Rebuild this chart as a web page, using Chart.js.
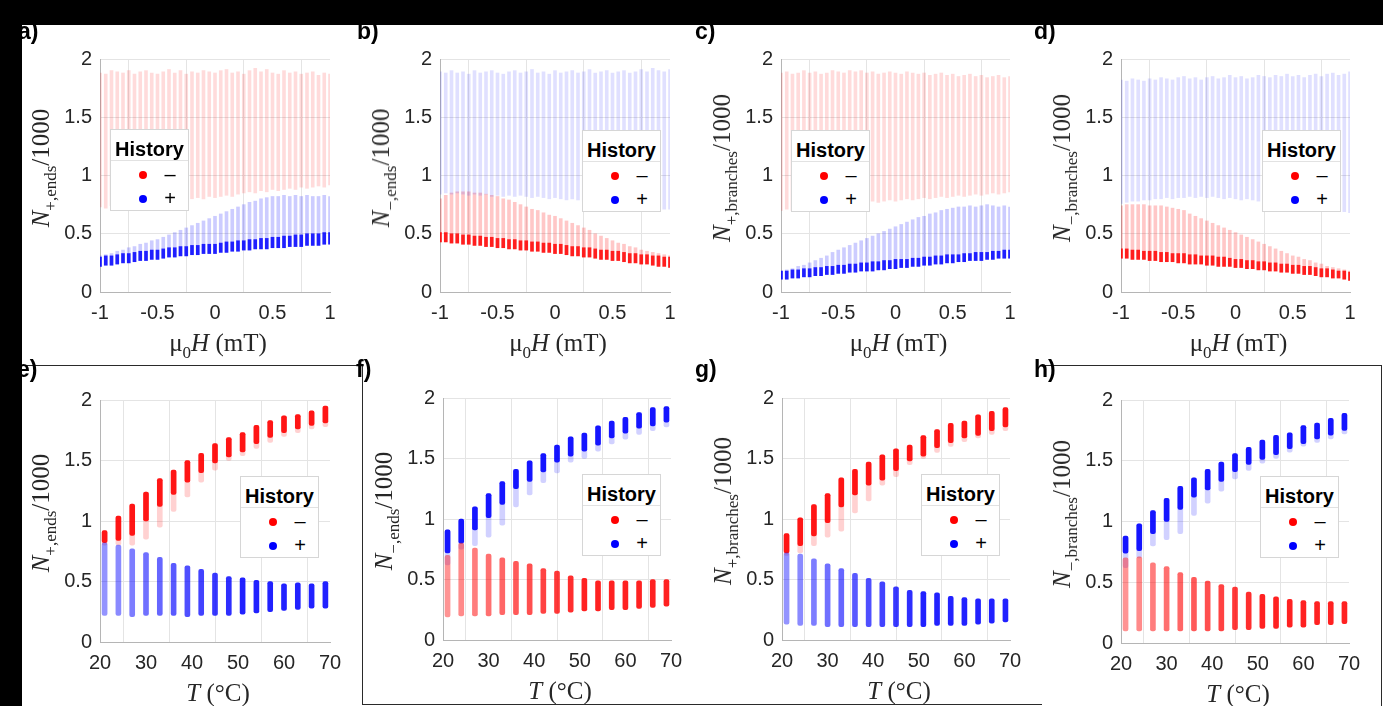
<!DOCTYPE html>
<html>
<head>
<meta charset="utf-8">
<script src="https://cdn.jsdelivr.net/npm/chart.js@4.4.1/dist/chart.umd.min.js"></script>
<style>
body { margin: 0; background: #fff; }
#fig { position: relative; width: 1383px; height: 706px; overflow: hidden; background: #fff; }
#fig canvas { position: absolute; }
.lbl { position: absolute; font: bold 23px 'Liberation Sans', Arial, sans-serif; line-height: 23px; color: #000; }
.yt { position: absolute; font: 25px 'Liberation Serif', 'Times New Roman', serif; white-space: nowrap; color: #262626;
      transform: translate(-50%, -50%) rotate(-90deg); }
.yt sub { font-size: 17px; vertical-align: -7px; }
.xt { position: absolute; font: 25px 'Liberation Serif', 'Times New Roman', serif; line-height: 25px; white-space: nowrap; color: #262626;
      transform: translateX(-50%); }
.xt sub { font-size: 17px; vertical-align: -7px; }
.leg { position: absolute; width: 79px; height: 82px; border: 1px solid #d6d6d6; background: #fff; box-sizing: border-box; }
.leg .t { position: absolute; left: 0; right: 0; top: 8px; text-align: center; font: bold 20px 'Liberation Sans', Arial, sans-serif; line-height: 22px; color: #000; }
.leg .sep { position: absolute; left: 0; right: 0; top: 30px; border-top: 1px solid #e2e2e2; }
.leg .dot { position: absolute; left: 28px; width: 8px; height: 8px; border-radius: 50%; }
.leg .sym { position: absolute; left: 50px; width: 18px; text-align: center; font: 20px 'Liberation Sans', Arial, sans-serif; line-height: 20px; color: #000; }
.blk { position: absolute; background: #000; }
.ln { position: absolute; background: #2a2a2a; }
</style>
</head>
<body>
<div id="fig"></div>
<script>
// field sweep (top row) and temperature sweep (bottom row)
var fieldH = [-1, -0.95, -0.9, -0.85, -0.8, -0.75, -0.7, -0.65, -0.6, -0.55, -0.5, -0.45, -0.4, -0.35, -0.3, -0.25, -0.2, -0.15, -0.1, -0.05,
    0, 0.05, 0.1, 0.15, 0.2, 0.25, 0.3, 0.35, 0.4, 0.45, 0.5, 0.55, 0.6, 0.65, 0.7, 0.75, 0.8, 0.85, 0.9, 0.95, 1];
var tempC = [21, 24, 27, 30, 33, 36, 39, 42, 45, 48, 51, 54, 57, 60, 63, 66, 69];

var fieldTicks = [-1, -0.5, 0, 0.5, 1];
var tempTicks = [20, 30, 40, 50, 60, 70];
var countTicks = [0, 0.5, 1, 1.5, 2];

// a) N+,ends vs field
var aMinusHi = [1.88,1.87,1.90,1.89,1.88,1.90,1.87,1.89,1.90,1.88,1.87,1.89,1.91,1.88,1.90,1.87,1.89,1.88,1.90,1.89,1.88,1.90,1.91,1.88,1.89,1.87,1.90,1.92,1.89,1.91,1.88,1.87,1.90,1.88,1.89,1.87,1.88,1.89,1.86,1.88,1.87];
var aMinusLo = [0.73,0.72,0.74,0.73,0.74,0.75,0.74,0.76,0.77,0.76,0.78,0.77,0.79,0.78,0.80,0.79,0.80,0.81,0.80,0.82,0.81,0.82,0.83,0.82,0.84,0.85,0.86,0.85,0.87,0.86,0.88,0.87,0.88,0.89,0.88,0.90,0.89,0.90,0.91,0.90,0.92];
var aPlusLo  = [0.22,0.23,0.23,0.24,0.25,0.25,0.26,0.27,0.27,0.28,0.28,0.29,0.30,0.30,0.31,0.31,0.32,0.32,0.33,0.33,0.33,0.34,0.34,0.35,0.35,0.36,0.36,0.37,0.37,0.37,0.38,0.38,0.38,0.39,0.39,0.39,0.40,0.40,0.40,0.41,0.41];
var aPlusMid = [0.30,0.31,0.31,0.32,0.33,0.33,0.34,0.35,0.35,0.36,0.36,0.37,0.38,0.38,0.39,0.39,0.40,0.40,0.41,0.41,0.41,0.42,0.43,0.43,0.44,0.44,0.45,0.45,0.46,0.46,0.47,0.47,0.48,0.48,0.49,0.49,0.50,0.50,0.50,0.51,0.51];
var aPlusHi  = [0.31,0.32,0.33,0.35,0.36,0.38,0.39,0.41,0.42,0.44,0.45,0.47,0.49,0.51,0.53,0.55,0.57,0.59,0.61,0.63,0.65,0.67,0.69,0.71,0.73,0.75,0.77,0.78,0.80,0.81,0.82,0.82,0.83,0.82,0.83,0.82,0.83,0.82,0.82,0.83,0.82];

// b) N-,ends vs field
var bPlusHi   = [1.89,1.88,1.90,1.88,1.89,1.87,1.90,1.88,1.89,1.90,1.88,1.87,1.89,1.90,1.88,1.89,1.91,1.88,1.89,1.87,1.90,1.88,1.89,1.90,1.88,1.89,1.91,1.88,1.89,1.90,1.88,1.89,1.90,1.88,1.89,1.91,1.89,1.92,1.90,1.89,1.91];
var bPlusLo   = [0.84,0.85,0.84,0.85,0.84,0.83,0.84,0.83,0.84,0.82,0.83,0.82,0.83,0.82,0.83,0.82,0.81,0.82,0.81,0.80,0.81,0.80,0.79,0.80,0.79,0.78,0.78,0.77,0.77,0.76,0.76,0.75,0.75,0.74,0.74,0.73,0.73,0.72,0.72,0.71,0.71];
var bMinusLo  = [0.43,0.43,0.42,0.42,0.41,0.41,0.40,0.40,0.39,0.39,0.38,0.38,0.37,0.37,0.36,0.36,0.35,0.35,0.34,0.34,0.33,0.33,0.32,0.31,0.31,0.30,0.30,0.29,0.28,0.28,0.27,0.27,0.26,0.25,0.25,0.24,0.24,0.23,0.22,0.22,0.21];
var bMinusMid = [0.51,0.51,0.50,0.50,0.49,0.49,0.48,0.48,0.47,0.47,0.46,0.46,0.45,0.45,0.44,0.44,0.43,0.43,0.42,0.42,0.41,0.41,0.40,0.39,0.39,0.38,0.38,0.37,0.36,0.36,0.35,0.35,0.34,0.33,0.33,0.32,0.32,0.31,0.31,0.30,0.30];
var bMinusHi  = [0.80,0.83,0.85,0.86,0.86,0.86,0.85,0.85,0.84,0.83,0.82,0.80,0.79,0.77,0.75,0.73,0.71,0.70,0.68,0.66,0.65,0.63,0.61,0.59,0.57,0.55,0.53,0.50,0.48,0.46,0.44,0.42,0.41,0.39,0.38,0.36,0.35,0.34,0.33,0.32,0.31];

// c) N+,branches vs field
var cMinusHi = [1.88,1.89,1.87,1.88,1.90,1.88,1.89,1.87,1.88,1.90,1.89,1.88,1.90,1.89,1.90,1.88,1.89,1.87,1.88,1.89,1.88,1.87,1.89,1.88,1.87,1.88,1.86,1.87,1.88,1.86,1.87,1.85,1.86,1.87,1.85,1.86,1.84,1.85,1.86,1.84,1.85];
var cMinusLo = [0.70,0.71,0.70,0.72,0.71,0.72,0.73,0.72,0.74,0.73,0.75,0.74,0.76,0.75,0.77,0.76,0.78,0.77,0.78,0.79,0.78,0.79,0.80,0.79,0.80,0.81,0.80,0.81,0.82,0.81,0.82,0.83,0.82,0.83,0.84,0.83,0.84,0.85,0.84,0.85,0.86];
var cPlusLo  = [0.11,0.11,0.12,0.12,0.13,0.13,0.14,0.14,0.15,0.15,0.16,0.16,0.17,0.17,0.18,0.18,0.18,0.19,0.19,0.20,0.20,0.21,0.21,0.22,0.22,0.23,0.23,0.24,0.24,0.25,0.25,0.26,0.26,0.27,0.27,0.27,0.28,0.28,0.29,0.29,0.29];
var cPlusMid = [0.18,0.18,0.19,0.19,0.20,0.20,0.21,0.21,0.22,0.22,0.23,0.23,0.24,0.24,0.25,0.25,0.26,0.26,0.27,0.27,0.28,0.28,0.28,0.29,0.29,0.30,0.30,0.31,0.31,0.32,0.32,0.32,0.33,0.33,0.34,0.34,0.34,0.35,0.35,0.36,0.36];
var cPlusHi  = [0.18,0.19,0.20,0.22,0.23,0.25,0.27,0.29,0.31,0.34,0.36,0.38,0.40,0.42,0.44,0.46,0.48,0.50,0.52,0.54,0.56,0.58,0.60,0.62,0.64,0.65,0.67,0.68,0.70,0.71,0.72,0.73,0.73,0.74,0.73,0.74,0.75,0.74,0.73,0.74,0.73];

// d) N-,branches vs field
var dPlusHi   = [1.82,1.81,1.83,1.82,1.81,1.83,1.82,1.84,1.83,1.82,1.84,1.85,1.83,1.84,1.82,1.84,1.85,1.83,1.84,1.86,1.84,1.85,1.83,1.84,1.86,1.85,1.84,1.86,1.85,1.87,1.85,1.86,1.84,1.86,1.87,1.85,1.87,1.88,1.86,1.87,1.89];
var dPlusLo   = [0.76,0.77,0.78,0.78,0.79,0.79,0.80,0.80,0.81,0.80,0.81,0.81,0.82,0.81,0.82,0.81,0.82,0.81,0.80,0.81,0.80,0.79,0.80,0.79,0.78,0.78,0.77,0.77,0.76,0.75,0.75,0.74,0.73,0.73,0.72,0.71,0.71,0.70,0.69,0.69,0.68];
var dMinusLo  = [0.29,0.29,0.28,0.28,0.28,0.27,0.27,0.26,0.26,0.26,0.25,0.25,0.24,0.24,0.24,0.23,0.23,0.22,0.22,0.22,0.21,0.21,0.20,0.20,0.19,0.19,0.18,0.18,0.17,0.17,0.16,0.16,0.15,0.15,0.14,0.13,0.13,0.12,0.12,0.11,0.10];
var dMinusMid = [0.37,0.37,0.36,0.36,0.35,0.35,0.35,0.34,0.34,0.33,0.33,0.33,0.32,0.32,0.31,0.31,0.31,0.30,0.30,0.29,0.28,0.28,0.27,0.27,0.26,0.26,0.25,0.25,0.24,0.24,0.23,0.23,0.22,0.22,0.21,0.20,0.20,0.19,0.18,0.18,0.17];
var dMinusHi  = [0.74,0.75,0.75,0.75,0.75,0.74,0.74,0.74,0.73,0.72,0.71,0.70,0.67,0.65,0.63,0.61,0.59,0.57,0.55,0.53,0.51,0.49,0.47,0.45,0.43,0.41,0.39,0.37,0.35,0.33,0.31,0.30,0.28,0.27,0.25,0.24,0.22,0.21,0.20,0.19,0.18];

// e) N+,ends vs temperature
var eMinusTop  = [0.92,1.04,1.14,1.24,1.35,1.42,1.50,1.56,1.64,1.69,1.73,1.79,1.83,1.87,1.88,1.91,1.95];
var eMinusCore = [0.82,0.84,0.88,1.00,1.12,1.22,1.32,1.40,1.48,1.53,1.57,1.64,1.69,1.73,1.76,1.79,1.81];
var eMinusTail = [0.80,0.80,0.80,0.85,0.95,1.08,1.20,1.32,1.42,1.50,1.54,1.60,1.65,1.70,1.73,1.76,1.78];
var ePlusTop    = [0.82,0.80,0.77,0.74,0.70,0.65,0.63,0.60,0.57,0.54,0.53,0.51,0.50,0.48,0.49,0.48,0.50];
var ePlusBottom = [0.22,0.22,0.21,0.22,0.22,0.22,0.21,0.22,0.22,0.22,0.23,0.24,0.25,0.26,0.27,0.28,0.28];

// f) N-,ends vs temperature
var fPlusTop  = [0.91,1.00,1.10,1.21,1.31,1.41,1.48,1.54,1.61,1.68,1.71,1.77,1.81,1.84,1.88,1.92,1.93];
var fPlusCore = [0.72,0.80,0.91,1.01,1.12,1.25,1.31,1.39,1.47,1.52,1.56,1.61,1.67,1.71,1.75,1.77,1.80];
var fPlusTail = [0.62,0.75,0.78,0.85,0.95,1.10,1.20,1.30,1.38,1.47,1.50,1.56,1.62,1.66,1.70,1.73,1.76];
var fMinusTop    = [0.70,0.80,0.76,0.71,0.68,0.65,0.63,0.59,0.57,0.53,0.51,0.49,0.49,0.49,0.49,0.50,0.50];
var fMinusBottom = [0.19,0.20,0.20,0.20,0.21,0.21,0.21,0.22,0.22,0.23,0.24,0.24,0.25,0.25,0.26,0.27,0.28];

// g) N+,branches vs temperature
var gMinusTop  = [0.88,1.01,1.12,1.21,1.34,1.41,1.47,1.53,1.58,1.61,1.69,1.74,1.79,1.81,1.86,1.89,1.92];
var gMinusCore = [0.72,0.78,0.86,0.97,1.10,1.20,1.28,1.32,1.40,1.48,1.52,1.59,1.63,1.67,1.69,1.73,1.76];
var gMinusTail = [0.70,0.72,0.78,0.85,0.90,1.05,1.15,1.28,1.35,1.45,1.50,1.55,1.60,1.64,1.67,1.70,1.73];
var gPlusTop    = [0.72,0.71,0.67,0.63,0.59,0.55,0.51,0.48,0.44,0.41,0.40,0.39,0.36,0.35,0.34,0.34,0.34];
var gPlusBottom = [0.13,0.12,0.12,0.11,0.11,0.11,0.11,0.11,0.11,0.11,0.11,0.12,0.12,0.12,0.13,0.14,0.15];

// h) N-,branches vs temperature
var hPlusTop  = [0.88,0.98,1.09,1.19,1.29,1.36,1.43,1.49,1.56,1.61,1.67,1.71,1.73,1.79,1.81,1.85,1.89];
var hPlusCore = [0.74,0.76,0.90,1.00,1.10,1.20,1.26,1.33,1.41,1.47,1.51,1.55,1.60,1.64,1.68,1.71,1.75];
var hPlusTail = [0.62,0.70,0.80,0.85,0.90,1.05,1.15,1.25,1.35,1.42,1.48,1.52,1.57,1.62,1.65,1.68,1.72];
var hMinusTop    = [0.70,0.71,0.66,0.63,0.58,0.54,0.51,0.48,0.46,0.42,0.40,0.38,0.36,0.35,0.34,0.34,0.34];
var hMinusBottom = [0.10,0.10,0.10,0.10,0.10,0.10,0.10,0.10,0.11,0.11,0.12,0.12,0.13,0.13,0.15,0.15,0.16];

var RED = '255,0,0', BLUE = '0,0,255';

function cols(xs, lo, hi) {
    return xs.map(function (x, i) { return { x: x, y: [lo[i], hi[i]] }; });
}
function layer(xs, lo, hi, rgb, alpha, w) {
    return {
        data: cols(xs, lo, hi),
        backgroundColor: 'rgba(' + rgb + ',' + alpha + ')',
        borderWidth: 0,
        barThickness: w,
        grouped: false,
        borderRadius: w > 3 ? 2 : 0,
        borderSkipped: false
    };
}
// spread-out lower clusters of the temperature panels get denser as T rises
function rampLayer(xs, lo, hi, rgb, w) {
    var ds = layer(xs, lo, hi, rgb, 1, w);
    ds.backgroundColor = function (ctx) {
        var k = ctx.dataIndex / (xs.length - 1);
        return 'rgba(' + rgb + ',' + (0.42 + 0.45 * Math.min(1, k * 1.6)).toFixed(2) + ')';
    };
    return ds;
}

var panels = [
    { id: 'a', L: 100, T: 51, R: 330, B: 292, xs: fieldH, xt: fieldTicks, sign: '+', kind: 'ends', leg: [110, 129],
      sets: [layer(fieldH, aMinusLo, aMinusHi, RED, 0.14, 3), layer(fieldH, aPlusLo, aPlusHi, BLUE, 0.2, 3), layer(fieldH, aPlusLo, aPlusMid, BLUE, 0.85, 3)] },
    { id: 'b', L: 440, T: 51, R: 670, B: 292, xs: fieldH, xt: fieldTicks, sign: '\u2212', kind: 'ends', leg: [582, 130],
      sets: [layer(fieldH, bPlusLo, bPlusHi, BLUE, 0.12, 3), layer(fieldH, bMinusLo, bMinusHi, RED, 0.22, 3), layer(fieldH, bMinusLo, bMinusMid, RED, 0.85, 3)] },
    { id: 'c', L: 781, T: 51, R: 1010, B: 292, xs: fieldH, xt: fieldTicks, sign: '+', kind: 'branches', leg: [791, 130],
      sets: [layer(fieldH, cMinusLo, cMinusHi, RED, 0.14, 3), layer(fieldH, cPlusLo, cPlusHi, BLUE, 0.2, 3), layer(fieldH, cPlusLo, cPlusMid, BLUE, 0.85, 3)] },
    { id: 'd', L: 1121, T: 51, R: 1350, B: 292, xs: fieldH, xt: fieldTicks, sign: '\u2212', kind: 'branches', leg: [1262, 130],
      sets: [layer(fieldH, dPlusLo, dPlusHi, BLUE, 0.12, 3), layer(fieldH, dMinusLo, dMinusHi, RED, 0.22, 3), layer(fieldH, dMinusLo, dMinusMid, RED, 0.85, 3)] },
    { id: 'e', L: 100, T: 392, R: 330, B: 642, xs: tempC, xt: tempTicks, sign: '+', kind: 'ends', leg: [240, 476],
      sets: [rampLayer(tempC, ePlusBottom, ePlusTop, BLUE, 5), layer(tempC, eMinusTail, eMinusTop, RED, 0.18, 5), layer(tempC, eMinusCore, eMinusTop, RED, 0.9, 5)] },
    { id: 'f', L: 443, T: 390, R: 671, B: 640, xs: tempC, xt: tempTicks, sign: '\u2212', kind: 'ends', leg: [582, 474],
      sets: [rampLayer(tempC, fMinusBottom, fMinusTop, RED, 5), layer(tempC, fPlusTail, fPlusTop, BLUE, 0.18, 5), layer(tempC, fPlusCore, fPlusTop, BLUE, 0.9, 5)] },
    { id: 'g', L: 782, T: 390, R: 1010, B: 640, xs: tempC, xt: tempTicks, sign: '+', kind: 'branches', leg: [921, 474],
      sets: [rampLayer(tempC, gPlusBottom, gPlusTop, BLUE, 5), layer(tempC, gMinusTail, gMinusTop, RED, 0.18, 5), layer(tempC, gMinusCore, gMinusTop, RED, 0.9, 5)] },
    { id: 'h', L: 1121, T: 392, R: 1349, B: 643, xs: tempC, xt: tempTicks, sign: '\u2212', kind: 'branches', leg: [1260, 476],
      sets: [rampLayer(tempC, hMinusBottom, hMinusTop, RED, 5), layer(tempC, hPlusTail, hPlusTop, BLUE, 0.18, 5), layer(tempC, hPlusCore, hPlusTop, BLUE, 0.9, 5)] }
];

var labelPos = { a: [18, 20], b: [357, 20], c: [695, 20], d: [1034, 20], e: [17, 358], f: [356, 358], g: [695, 358], h: [1034, 358] };

var fig = document.getElementById('fig');
var PADL = 62, PADT = 12, PADR = 24, PADB = 40;
var tickFont = { family: "'Liberation Sans', Arial, sans-serif", size: 20 };

function add(html) {
    fig.insertAdjacentHTML('beforeend', html);
}
function plain(v) { return String(v); }

panels.forEach(function (p) {
    var w = p.R - p.L, h = p.B - p.T;
    var cv = document.createElement('canvas');
    cv.width = w + PADL + PADR;
    cv.height = h + PADT + PADB;
    cv.style.left = (p.L - PADL) + 'px';
    cv.style.top = (p.T - PADT) + 'px';
    cv.style.width = cv.width + 'px';
    cv.style.height = cv.height + 'px';
    fig.appendChild(cv);

    var xt = p.xt;
    new Chart(cv.getContext('2d'), {
        type: 'bar',
        data: { datasets: p.sets },
        options: {
            responsive: false,
            animation: false,
            devicePixelRatio: 1,
            layout: { padding: { left: 0, top: PADT, right: PADR, bottom: 0 } },
            plugins: { legend: { display: false }, tooltip: { enabled: false } },
            scales: {
                x: {
                    type: 'linear', min: xt[0], max: xt[xt.length - 1], offset: false,
                    afterFit: function (s) { s.height = PADB; },
                    afterBuildTicks: function (s) { s.ticks = xt.map(function (v) { return { value: v }; }); },
                    ticks: { font: tickFont, color: '#262626', padding: 9, maxRotation: 0, autoSkip: false, callback: plain },
                    grid: { color: '#e4e4e4', drawTicks: false },
                    border: { color: '#b5b5b5' }
                },
                y: {
                    min: 0, max: 2,
                    afterFit: function (s) { s.width = PADL; },
                    afterBuildTicks: function (s) { s.ticks = countTicks.map(function (v) { return { value: v }; }); },
                    ticks: { font: tickFont, color: '#262626', padding: 8, callback: plain },
                    grid: { color: '#e4e4e4', drawTicks: false },
                    border: { color: '#b5b5b5' }
                }
            }
        }
    });

    // axis titles
    var cx = p.L - 56, cy = (p.T + p.B) / 2 - 4;
    add('<div class="yt" style="left:' + cx + 'px;top:' + cy + 'px"><i>N</i><sub>' + p.sign + ',' + p.kind + '</sub>/1000</div>');
    var xtxt = p.xs === fieldH ? '\u03bc<sub>0</sub><i>H</i> (mT)' : '<i>T</i> (\u00b0C)';
    add('<div class="xt" style="left:' + ((p.L + p.R) / 2 + 3) + 'px;top:' + (p.B + 38) + 'px">' + xtxt + '</div>');

    // legend
    add('<div class="leg" style="left:' + p.leg[0] + 'px;top:' + p.leg[1] + 'px">' +
        '<div class="t">History</div><div class="sep"></div>' +
        '<div class="dot" style="top:41px;background:#f00"></div><div class="sym" style="top:34px">\u2013</div>' +
        '<div class="dot" style="top:65px;background:#00f"></div><div class="sym" style="top:58px">+</div>' +
        '</div>');
});

// frame lines around lower panels
add('<div class="ln" style="left:22px;top:365px;width:341px;height:1px"></div>');
add('<div class="ln" style="left:362px;top:365px;width:1px;height:340px"></div>');
add('<div class="ln" style="left:362px;top:704px;width:680px;height:1px"></div>');
add('<div class="ln" style="left:1042px;top:365px;width:340px;height:1px"></div>');
add('<div class="ln" style="left:1381px;top:365px;width:1px;height:341px"></div>');

// panel letters
Object.keys(labelPos).forEach(function (k) {
    add('<div class="lbl" style="left:' + labelPos[k][0] + 'px;top:' + labelPos[k][1] + 'px">' + k + ')</div>');
});

// black bars of the screenshot
add('<div class="blk" style="left:0;top:0;width:1383px;height:25px"></div>');
add('<div class="blk" style="left:0;top:0;width:22px;height:706px"></div>');
</script>
</body>
</html>
